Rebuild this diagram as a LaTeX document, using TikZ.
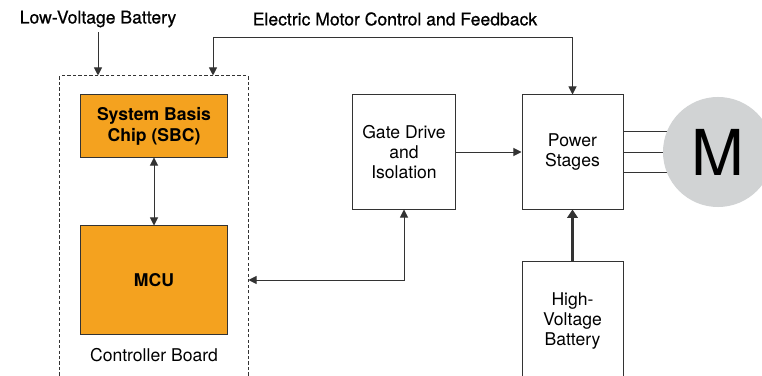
\documentclass[tikz,border=0pt]{standalone}
\usepackage{fontspec}
\setmainfont{TeX Gyre Heros}
\newfontfamily\medfont[FakeBold=0.7]{TeX Gyre Heros}
\usepackage{tikz}
\usetikzlibrary{positioning,arrows.meta,backgrounds,calc}
\definecolor{chiporange}{HTML}{F4A21F}
\definecolor{motorgray}{HTML}{D1D3D4}
\definecolor{linegray}{HTML}{333333}

\begin{document}
\begin{tikzpicture}[x=0.025cm, y=0.025cm,
    box/.style={rectangle, draw=linegray, line width=0.7pt, align=center, font=\fontsize{12.5}{14}\selectfont},
    chip/.style={box, fill=chiporange, font=\fontsize{12.5}{15}\selectfont\bfseries},
    lbl/.style={font=\fontsize{12.5}{14}\selectfont},
    toplbl/.style={font=\fontsize{12.5}{14}\selectfont\medfont},
    arrow/.style={-{Triangle[length=5.7pt,width=5.7pt]}, draw=linegray, line width=0.7pt},
    dblarrow/.style={arrow, {Triangle[length=5.7pt,width=5.7pt]}-{Triangle[length=5.7pt,width=5.7pt]}}
]
    \useasboundingbox (0,0) rectangle (762,375);

    \node[rectangle, draw=linegray, line width=0.7pt, dash pattern=on 2.3pt off 1.6pt, minimum width=4.7cm, minimum height=7.725cm] (board) at (154,144.5) {};
    \node[chip, minimum width=3.65cm, minimum height=1.55cm] (sbc) at (154,249) {System Basis\\Chip (SBC)};
    \node[chip, minimum width=3.65cm, minimum height=2.7cm] (mcu) at (154,95) {MCU};
    \node[lbl] (boardlbl) at (154,20) {Controller Board};

    \node[box, minimum width=2.55cm, minimum height=2.85cm] (gate) at (404,223) {Gate Drive\\and\\Isolation};
    \node[box, minimum width=2.525cm, minimum height=2.85cm] (power) at (572.5,223) {Power\\Stages};
    \node[box, minimum width=2.525cm, minimum height=2.95cm] (hvbat) at (572.5,54) {High-\\Voltage\\Battery};
    \node[circle, fill=motorgray, minimum size=2.75cm, font=\fontsize{45}{45}\selectfont] (motor) at (718,223) {M};

    \node[toplbl] (lvbat) at (98,356) {Low-Voltage Battery};
    \node[toplbl] (feedback) at (395,356) {Electric Motor Control and Feedback};
    \coordinate (fbl) at (213,338);

    \begin{scope}[on background layer]
        \foreach \dy in {20.5,0,-20.5}
            \draw[linegray, line width=0.7pt] ($(power.east)+(0,\dy)$) -- ($(motor.center)+(0,\dy)$);
    \end{scope}

    \draw[arrow] (lvbat.south) -- (lvbat.south |- board.north);
    \draw[arrow] (fbl) -- (fbl |- board.north);
    \draw[arrow] (fbl) -| (power.north);
    \draw[dblarrow] (sbc) -- (mcu);
    \draw[arrow] (gate.east) -- (gate.east -| power.west);
    \draw[dblarrow] (gate.south) |- (board.east |- mcu.east);
    \draw[-{Triangle[length=6pt,width=7.5pt]}, draw=linegray, line width=2.2pt] (hvbat.north) -- (power.south);
\end{tikzpicture}
\end{document}
